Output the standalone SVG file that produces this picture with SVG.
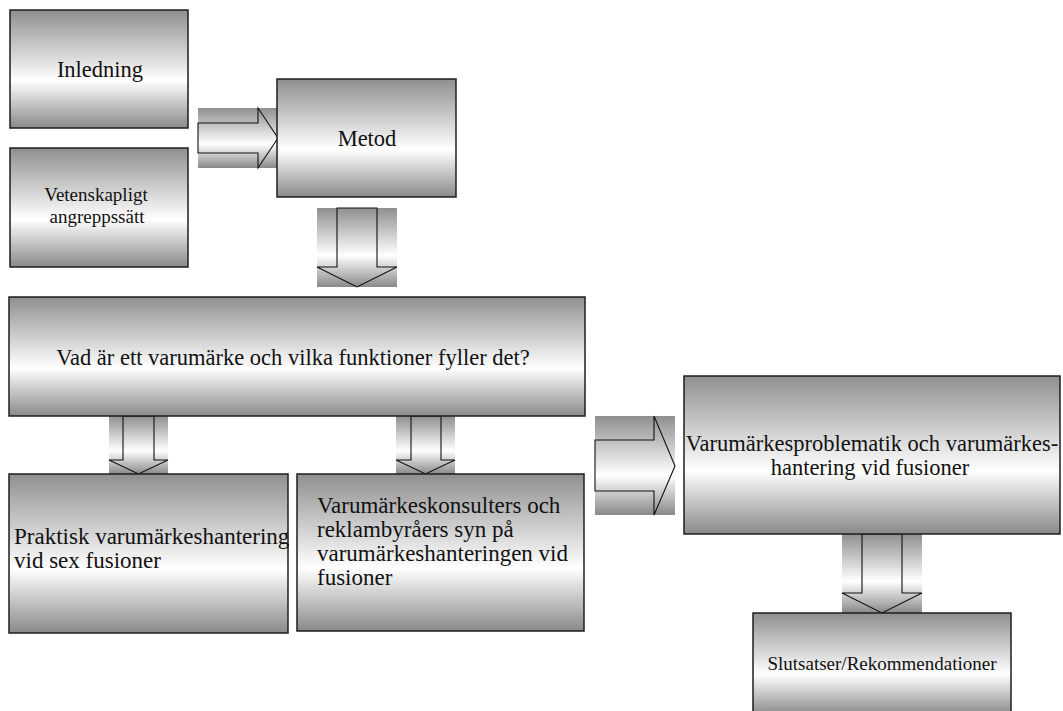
<svg xmlns="http://www.w3.org/2000/svg" width="1063" height="711" viewBox="0 0 1063 711">
  <defs>
    <!-- metallic banded fill: grey at the edges, white band a bit below the middle -->
    <linearGradient id="band" x1="0" y1="0" x2="0" y2="1">
      <stop offset="0" stop-color="#8f8f8f"/>
      <stop offset="0.6" stop-color="#ffffff"/>
      <stop offset="1" stop-color="#898989"/>
    </linearGradient>
  </defs>
  <style>
    .box { fill: url(#band); stroke: #1e1e1e; stroke-width: 1.5; }
    .abg { fill: url(#band); stroke: none; }
    .arrow { fill: none; stroke: #111; stroke-width: 1.1; stroke-linejoin: miter; }
    text { font-family: "Liberation Serif", "Times New Roman", serif; fill: #111; }
    .big { font-size: 22.5px; }
    .mid { font-size: 23px; }
    .small { font-size: 19px; }
  </style>

  <rect width="1063" height="711" fill="#ffffff"/>

  <!-- connectors: block arrows on a shaded backing -->
  <g id="connectors">
    <g id="arrow-intro-method">
      <rect class="abg" x="198" y="108" width="80" height="60"/>
      <path class="arrow" d="M198,123 H258 V108 L278,138 L258,168 V153 H198 Z"/>
    </g>
    <g id="arrow-method-brand">
      <rect class="abg" x="317" y="208" width="80" height="79"/>
      <path class="arrow" d="M337,208 H377 V267 H397 L357,287 L317,267 H337 Z"/>
    </g>
    <g id="arrow-brand-practice">
      <rect class="abg" x="109" y="416" width="59" height="58"/>
      <path class="arrow" d="M123,416 H154 V460 H168 L138.5,474 L109,460 H123 Z"/>
    </g>
    <g id="arrow-brand-consultants">
      <rect class="abg" x="396" y="416" width="59" height="58"/>
      <path class="arrow" d="M411,416 H441 V460 H455 L425.5,474 L396,460 H411 Z"/>
    </g>
    <g id="arrow-to-problems">
      <rect class="abg" x="595" y="416" width="80" height="99"/>
      <path class="arrow" d="M595,440 H654 V416 L675,466 L654,515 V491 H595 Z"/>
    </g>
    <g id="arrow-problems-conclusions">
      <rect class="abg" x="842" y="534" width="80" height="79"/>
      <path class="arrow" d="M862,534 H902 V593 H922 L882,613 L842,593 H862 Z"/>
    </g>
  </g>

  <!-- nodes -->
  <g id="inledning">
    <rect class="box" x="10" y="10" width="178" height="118"/>
    <text class="big" x="100" y="77" text-anchor="middle">Inledning</text>
  </g>

  <g id="vetenskapligt">
    <rect class="box" x="10" y="148" width="178" height="119"/>
    <text class="small" text-anchor="middle"><tspan x="96" y="201">Vetenskapligt</tspan><tspan x="97" y="223">angreppssätt</tspan></text>
  </g>

  <g id="metod">
    <rect class="box" x="277" y="79" width="179" height="118"/>
    <text class="big" x="367" y="146" text-anchor="middle">Metod</text>
  </g>

  <g id="varumarke">
    <rect class="box" x="9" y="297" width="576" height="119"/>
    <text class="big" x="293" y="365" text-anchor="middle">Vad är ett varumärke och vilka funktioner fyller det?</text>
  </g>

  <g id="praktisk">
    <rect class="box" x="9" y="474" width="279" height="159"/>
    <text class="mid"><tspan x="14" y="544">Praktisk varumärkeshantering</tspan><tspan x="14" y="568">vid sex fusioner</tspan></text>
  </g>

  <g id="konsulter">
    <rect class="box" x="297" y="474" width="287" height="157"/>
    <text class="mid"><tspan x="317" y="513">Varumärkeskonsulters och</tspan><tspan x="317" y="537">reklambyråers syn på</tspan><tspan x="317" y="561">varumärkeshanteringen vid</tspan><tspan x="317" y="585">fusioner</tspan></text>
  </g>

  <g id="problematik">
    <rect class="box" x="684" y="376" width="376" height="158"/>
    <text class="big" text-anchor="middle"><tspan x="872" y="451">Varumärkesproblematik och varumärkes-</tspan><tspan x="870" y="475">hantering vid fusioner</tspan></text>
  </g>

  <g id="slutsatser">
    <rect class="box" x="753" y="613" width="258" height="102"/>
    <text class="small" x="882" y="670" text-anchor="middle">Slutsatser/Rekommendationer</text>
  </g>
</svg>
